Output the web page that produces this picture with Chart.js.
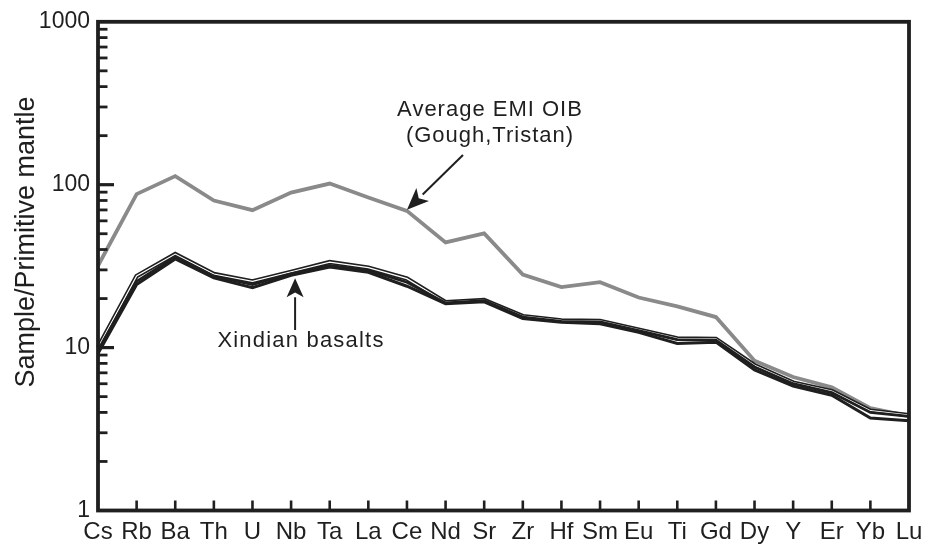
<!DOCTYPE html>
<html>
<head>
<meta charset="utf-8">
<script src="https://cdn.jsdelivr.net/npm/chart.js@4/dist/chart.umd.min.js"></script>
<style>
  html, body { margin: 0; padding: 0; background: #fff; }
  #wrap { width: 934px; height: 544px; }
</style>
</head>
<body>
<div id="wrap"><canvas id="spider" width="934" height="544"></canvas></div>
<script>
// Primitive-mantle normalised trace element patterns
const elements = ['Cs','Rb','Ba','Th','U','Nb','Ta','La','Ce','Nd','Sr','Zr','Hf','Sm','Eu','Ti','Gd','Dy','Y','Er','Yb','Lu'];

// Average EM I ocean island basalt (Gough, Tristan)
const oibEM1 = [31.8, 87.5, 113, 80, 69.8, 89.5, 101.6, 83.4, 69.1, 44.2, 50.2, 28.1, 23.5, 25.2, 20.3, 17.9, 15.4, 8.3, 6.6, 5.7, 4.25, 3.8];

// Xindian basalt samples
const xindianA = [10.0, 27.5, 37.5, 28.3, 25.5, 29.2, 33.5, 31.0, 26.5, 19.0, 19.6, 15.6, 14.7, 14.6, 12.9, 11.4, 11.3, 7.8, 6.1, 5.4, 4.1, 3.85];
const xindianB = [9.6, 25.5, 36.0, 27.4, 24.4, 28.4, 32.0, 29.8, 25.2, 18.8, 19.4, 15.4, 14.5, 14.4, 12.7, 11.2, 11.1, 7.6, 6.0, 5.3, 4.0, 3.78];
const xindianC = [9.2, 24.4, 35.0, 26.8, 23.3, 27.8, 31.2, 29.0, 23.8, 18.6, 19.1, 15.1, 14.3, 14.0, 12.4, 10.6, 10.8, 7.3, 5.8, 5.1, 3.7, 3.55];

const yTickValues = [1, 10, 100, 1000];

const INK = '#1f1f1f';
const FONT = "'Liberation Sans', Arial, sans-serif";

function arrow(ctx, x1, y1, x2, y2, headLen, headHalf) {
  const ang = Math.atan2(y2 - y1, x2 - x1);
  const bx = x2 - headLen * Math.cos(ang);
  const by = y2 - headLen * Math.sin(ang);
  ctx.beginPath();
  ctx.moveTo(x1, y1);
  ctx.lineTo(bx, by);
  ctx.lineWidth = 2;
  ctx.strokeStyle = INK;
  ctx.stroke();
  ctx.beginPath();
  ctx.moveTo(x2, y2);
  ctx.lineTo(bx + headHalf * Math.sin(ang), by - headHalf * Math.cos(ang));
  ctx.lineTo(x2 - (headLen * 0.75) * Math.cos(ang), y2 - (headLen * 0.75) * Math.sin(ang));
  ctx.lineTo(bx - headHalf * Math.sin(ang), by + headHalf * Math.cos(ang));
  ctx.closePath();
  ctx.fillStyle = INK;
  ctx.fill();
}

// Frame, inward tick marks, axis title and annotations
const decorations = {
  id: 'decorations',
  afterDraw(chart) {
    const ctx = chart.ctx;
    const a = chart.chartArea;
    const xs = chart.scales.x, ys = chart.scales.y;
    ctx.save();
    ctx.strokeStyle = INK;
    ctx.lineCap = 'butt';

    // y ticks: decades long, intermediate values short
    for (let d = 0; d < 3; d++) {
      const base = Math.pow(10, d);
      for (let k = 1; k <= 9; k++) {
        if (k === 1 && d === 0) continue;
        const y = ys.getPixelForValue(base * k);
        const len = k === 1 ? 16 : 9.5;
        ctx.lineWidth = k === 1 ? 3.2 : 2.8;
        ctx.beginPath();
        ctx.moveTo(a.left, y);
        ctx.lineTo(a.left + len, y);
        ctx.stroke();
      }
    }
    // x ticks
    ctx.lineWidth = 2.6;
    for (let i = 1; i < elements.length - 1; i++) {
      const x = xs.getPixelForValue(i);
      ctx.beginPath();
      ctx.moveTo(x, a.bottom);
      ctx.lineTo(x, a.bottom - 10);
      ctx.stroke();
    }
    // frame
    ctx.lineWidth = 3.8;
    ctx.strokeRect(a.left, a.top, a.right - a.left, a.bottom - a.top);

    // y axis title
    ctx.fillStyle = INK;
    ctx.font = '27px ' + FONT;
    ctx.textAlign = 'center';
    ctx.textBaseline = 'middle';
    ctx.save();
    ctx.translate(27, 242);
    ctx.rotate(-Math.PI / 2);
    ctx.fillText('Sample/Primitive mantle', 0, 0);
    ctx.restore();

    // annotations
    ctx.font = '22px ' + FONT;
    ctx.letterSpacing = '1px';
    ctx.fillText('Average EMI OIB', 490, 110);
    ctx.fillText('(Gough,Tristan)', 490, 136);
    ctx.letterSpacing = '1.2px';
    ctx.fillText('Xindian basalts', 301, 341);
    ctx.letterSpacing = '0px';

    const ceI = elements.indexOf('Ce');
    const ceX = xs.getPixelForValue(ceI);
    const ceY = ys.getPixelForValue(oibEM1[ceI]);
    arrow(ctx, 463, 155, ceX, ceY - 1, 22, 9);

    const nbI = elements.indexOf('Nb');
    const nbX = xs.getPixelForValue(nbI);
    const nbY = ys.getPixelForValue(xindianC[nbI]);
    arrow(ctx, nbX + 4, 330, nbX + 4, nbY + 3, 19, 8.5);
    ctx.restore();
  }
};

const common = { pointRadius: 0, tension: 0, fill: false, borderJoinStyle: 'miter' };

// Datasets listed first are painted last (on top)
new Chart(document.getElementById('spider'), {
  type: 'line',
  data: {
    labels: elements,
    datasets: [
      Object.assign({ label: 'Xindian B', data: xindianB, borderColor: INK, borderWidth: 2.8 }, common),
      Object.assign({ label: 'Xindian C', data: xindianC, borderColor: INK, borderWidth: 3 }, common),
      Object.assign({ label: 'Xindian A (core)', data: xindianA, borderColor: '#ffffff', borderWidth: 1.2 }, common),
      Object.assign({ label: 'Xindian A', data: xindianA, borderColor: INK, borderWidth: 4.4 }, common),
      Object.assign({ label: 'Average EMI OIB', data: oibEM1, borderColor: '#8a8a8a', borderWidth: 3.8 }, common)
    ]
  },
  options: {
    responsive: false,
    animation: false,
    devicePixelRatio: 1,
    layout: { padding: { left: 0, right: 25, top: 20, bottom: 0 } },
    plugins: { legend: { display: false }, tooltip: { enabled: false } },
    scales: {
      x: {
        type: 'category',
        offset: false,
        grid: { display: false, drawTicks: false },
        border: { display: false },
        ticks: {
          color: INK,
          font: { family: FONT, size: 24 },
          padding: 7,
          maxRotation: 0,
          autoSkip: false
        },
        afterFit(s) { s.height = 33.5; }
      },
      y: {
        type: 'logarithmic',
        min: 1,
        max: 1000,
        grid: { display: false, drawTicks: false },
        border: { display: false },
        ticks: {
          color: INK,
          font: { family: FONT, size: 23 },
          padding: 8,
          autoSkip: false,
          callback(v) { return yTickValues.includes(v) ? String(v) : ''; }
        },
        afterFit(s) { s.width = 98; }
      }
    }
  },
  plugins: [decorations]
});
</script>
</body>
</html>
